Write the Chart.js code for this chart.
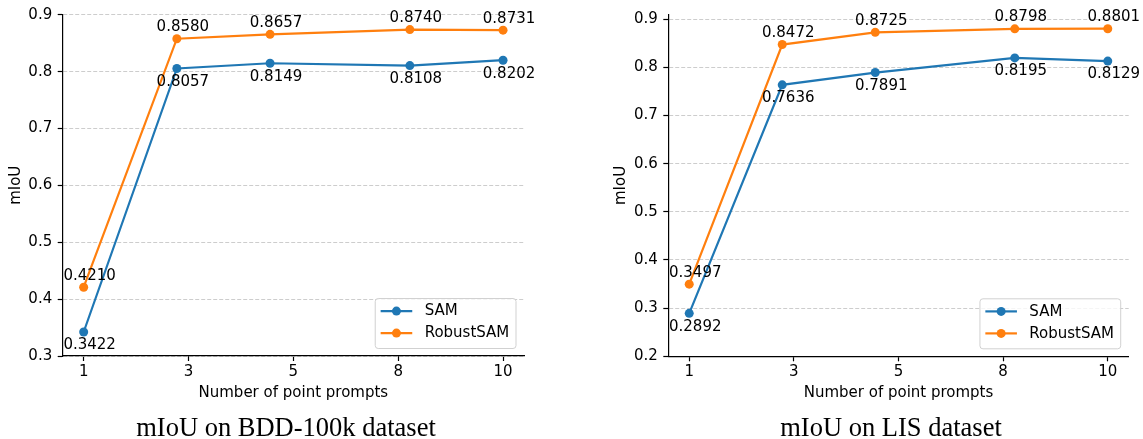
<!DOCTYPE html>
<html><head><meta charset="utf-8">
<script src="https://cdn.jsdelivr.net/npm/chart.js@4/dist/chart.umd.min.js"></script>
<style>
html,body{margin:0;padding:0;background:#fff;width:1143px;height:439px;overflow:hidden;position:relative}
canvas{position:absolute;top:0}
.cap{position:absolute;font-family:"Liberation Serif","Times New Roman",serif;font-size:26.5px;line-height:30px;white-space:nowrap;color:#000;transform:translateX(-50%)}
</style></head><body>
<canvas id="c1" width="560" height="439" style="left:0px"></canvas>
<canvas id="c2" width="543" height="439" style="left:600px"></canvas>
<div class="cap" style="left:286px;top:412px">mIoU on BDD-100k dataset</div>
<div class="cap" style="left:891px;top:412px">mIoU on LIS dataset</div>
<script>
const xValues = [1, 3, 5, 8, 10];
const xTickLabels = ['1', '3', '5', '8', '10'];
const seriesNames = ['SAM', 'RobustSAM'];
const bddSam = [0.3422, 0.8057, 0.8149, 0.8108, 0.8202];
const bddRobust = [0.4210, 0.8580, 0.8657, 0.8740, 0.8731];
const lisSam = [0.2892, 0.7636, 0.7891, 0.8195, 0.8129];
const lisRobust = [0.3497, 0.8472, 0.8725, 0.8798, 0.8801];
const bddYTicks = [0.3, 0.4, 0.5, 0.6, 0.7, 0.8, 0.9];
const lisYTicks = [0.2, 0.3, 0.4, 0.5, 0.6, 0.7, 0.8, 0.9];

const C_SAM = '#1f77b4', C_ROB = '#ff7f0e';
const FONT = '"DejaVu Sans"';
Chart.defaults.font.family = FONT;
Chart.defaults.color = '#000';

const valueLabels = {
  id: 'valueLabels',
  afterDatasetsDraw(chart) {
    const ctx = chart.ctx;
    ctx.save();
    ctx.font = '15px ' + FONT;
    ctx.fillStyle = '#000'; ctx.textAlign = 'center'; ctx.textBaseline = 'middle';
    chart.data.datasets.forEach((ds, i) => {
      const meta = chart.getDatasetMeta(i);
      const dy = ds.labelBelow ? 13.5 : -11.5;
      meta.data.forEach((pt, j) => {
        ctx.fillText(ds.data[j].y.toFixed(4), pt.x + 6, pt.y + dy);
      });
    });
    ctx.restore();
  }
};

const boxLegend = {
  id: 'boxLegend',
  afterDraw(chart) {
    const ctx = chart.ctx, a = chart.chartArea;
    ctx.save();
    ctx.font = '15px ' + FONT;
    const tw = Math.max(...chart.data.datasets.map(d => ctx.measureText(d.label).width));
    const w = 5.4 + 31.6 + 12.4 + tw + 6.7, h = 50;
    const x0 = a.right - 8 - w, y0 = a.bottom - 7.5 - h;
    ctx.beginPath(); ctx.roundRect(x0, y0, w, h, 3);
    ctx.fillStyle = 'rgba(255,255,255,0.8)'; ctx.fill();
    ctx.strokeStyle = 'rgba(204,204,204,0.9)'; ctx.lineWidth = 1; ctx.stroke();
    chart.data.datasets.forEach((d, i) => {
      const cy = y0 + 12.6 + 22 * i;
      ctx.strokeStyle = d.borderColor; ctx.lineWidth = 2.2;
      ctx.beginPath(); ctx.moveTo(x0 + 5.4, cy); ctx.lineTo(x0 + 37, cy); ctx.stroke();
      ctx.fillStyle = d.borderColor; ctx.beginPath(); ctx.arc(x0 + 21.2, cy, 4.5, 0, Math.PI * 2); ctx.fill();
      ctx.fillStyle = '#000'; ctx.textAlign = 'left'; ctx.textBaseline = 'middle';
      ctx.fillText(d.label, x0 + 49.4, cy + 0.5);
    });
    ctx.restore();
  }
};

function makeChart(id, samData, robData, yTicks, cfg) {
  const toPts = arr => xValues.map((x, i) => ({x: x, y: arr[i]}));
  return new Chart(document.getElementById(id), {
    type: 'line',
    data: {datasets: [
      {label: seriesNames[0], data: toPts(samData), borderColor: C_SAM, backgroundColor: C_SAM, pointBackgroundColor: C_SAM, labelBelow: true, order: 2, clip: false},
      {label: seriesNames[1], data: toPts(robData), borderColor: C_ROB, backgroundColor: C_ROB, pointBackgroundColor: C_ROB, labelBelow: false, order: 1, clip: false}
    ]},
    options: {
      responsive: false, animation: false,
      layout: {padding: {left: 0, right: cfg.padRight, top: cfg.top, bottom: cfg.padBottom}},
      elements: {line: {borderWidth: 2.2, tension: 0}, point: {radius: 4.5, borderWidth: 0, hoverRadius: 4.5}},
      plugins: {legend: {display: false}, tooltip: {enabled: false}},
      scales: {
        x: {
          type: 'linear', min: 0.55, max: 10.45,
          afterBuildTicks(s) {
            const n = xTickLabels.length, a = xValues[0], b = xValues[xValues.length - 1];
            s.ticks = xTickLabels.map((_, i) => ({value: a + i * (b - a) / (n - 1)}));
          },
          afterFit(s) { s.height = cfg.xHeight; },
          ticks: {autoSkip: false, maxRotation: 0, padding: 2, font: {size: 15}, color: '#000', callback: (v, i) => xTickLabels[i]},
          grid: {display: true, drawOnChartArea: false, drawTicks: true, tickLength: 5, tickColor: '#000', tickWidth: 1.2},
          border: {display: true, color: '#000', width: 1.2, z: 1},
          title: {display: true, text: 'Number of point prompts', font: {size: 15}, color: '#000', padding: {top: 0, bottom: 0}}
        },
        y: {
          min: cfg.yMin, max: cfg.yMax,
          afterBuildTicks(s) { s.ticks = yTicks.map(v => ({value: v})); },
          afterFit(s) { s.width = cfg.yWidth; },
          ticks: {padding: 5.5, font: {size: 15}, color: '#000', callback: v => Number(v).toFixed(1)},
          grid: {color: 'rgba(200,200,200,0.9)', lineWidth: 1, tickLength: 5, tickColor: '#000', tickWidth: 1.2, tickBorderDash: []},
          border: {display: true, color: '#000', width: 1.2, dash: [4, 2]},
          title: {display: true, text: 'mIoU', font: {size: 15}, color: '#000', padding: {top: cfg.yTitlePad, bottom: 0}}
        }
      }
    },
    plugins: [valueLabels, boxLegend]
  });
}

makeChart('c1', bddSam, bddRobust, bddYTicks,
  {padRight: 36, top: 13.7, padBottom: 37, xHeight: 46, yWidth: 62.7, yTitlePad: 7, yMin: 0.3, yMax: 0.9006});
makeChart('c2', lisSam, lisRobust, lisYTicks,
  {padRight: 14.3, top: 13.6, padBottom: 37, xHeight: 45.7, yWidth: 68.3, yTitlePad: 12.3, yMin: 0.2, yMax: 0.9096});
</script>
</body></html>
